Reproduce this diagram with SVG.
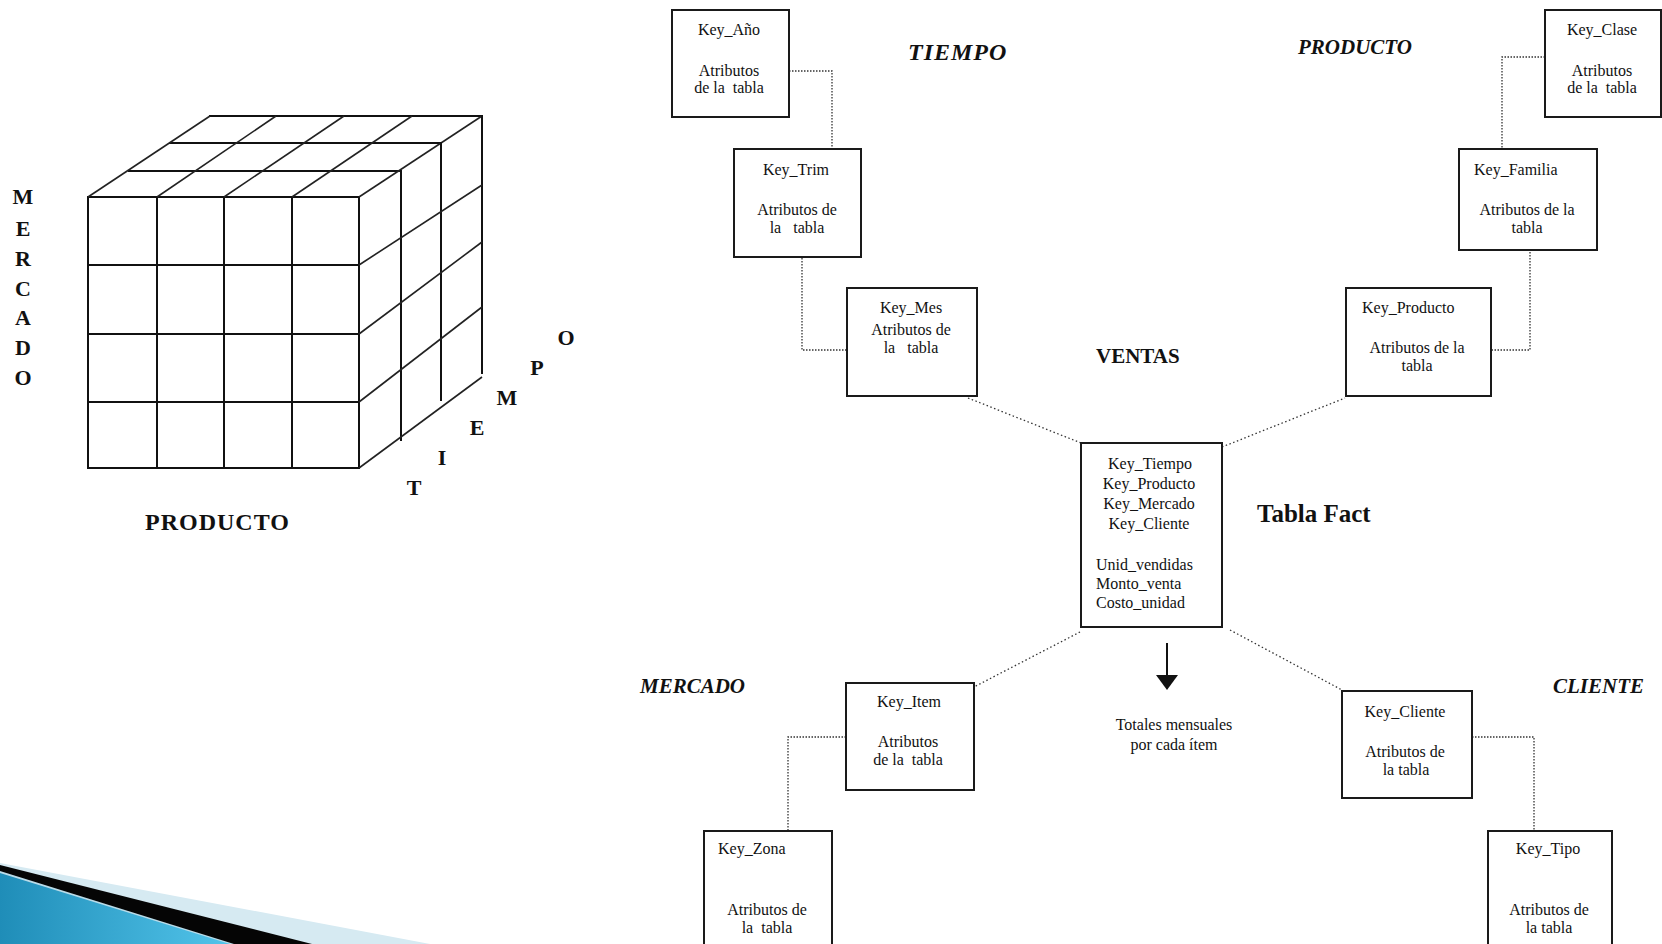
<svg xmlns="http://www.w3.org/2000/svg" width="1662" height="944" viewBox="0 0 1662 944" xml:space="preserve">
  <defs>
    <style>
      .bg { fill: #ffffff; }
      .cube { stroke: #111; stroke-width: 2; fill: none; stroke-linecap: square; }
      .cube-d { stroke: #222; stroke-width: 1.6; fill: none; }
      .axis { font-family: "Liberation Serif", "Times New Roman", serif; font-weight: bold; fill: #111; }
      .box { fill: #fff; stroke: #1a1a1a; stroke-width: 2; }
      .t { font-family: "Liberation Serif", "Times New Roman", serif; font-size: 16px; fill: #111; white-space: pre; }
      .c { text-anchor: middle; }
      .title { font-family: "Liberation Serif", "Times New Roman", serif; font-weight: bold; fill: #111; }
      .dim { font-style: italic; }
      .link { stroke: #333; stroke-width: 1.3; fill: none; stroke-dasharray: 1.5 1.5; }
      .link-d { stroke: #333; stroke-width: 1.3; fill: none; stroke-dasharray: 1.5 2.5; }
    </style>
    <linearGradient id="wedgeBlue" x1="0" y1="0" x2="1" y2="0">
      <stop offset="0" stop-color="#1f8db8"/>
      <stop offset="1" stop-color="#52c4ea"/>
    </linearGradient>
  </defs>

  <rect class="bg" x="0" y="0" width="1662" height="944"/>

  <!-- corner decoration -->
  <g id="corner-wedge">
    <polygon points="0,863 430,944 0,944" fill="#d6eaf2"/>
    <polygon points="0,865 312,944 0,944" fill="#050505"/>
    <polygon points="0,871 234,944 0,944" fill="#b9dbe8"/>
    <polygon points="0,873 230,944 0,944" fill="url(#wedgeBlue)"/>
  </g>

  <!-- data cube -->
  <g id="cube">
    <!-- front face -->
    <rect class="cube" x="88" y="197" width="271" height="271"/>
    <line class="cube" x1="157" y1="197" x2="157" y2="468"/>
    <line class="cube" x1="224" y1="197" x2="224" y2="468"/>
    <line class="cube" x1="292" y1="197" x2="292" y2="468"/>
    <line class="cube" x1="88" y1="265" x2="359" y2="265"/>
    <line class="cube" x1="88" y1="334" x2="359" y2="334"/>
    <line class="cube" x1="88" y1="402" x2="359" y2="402"/>
    <!-- top face -->
    <line class="cube" x1="129" y1="171" x2="401" y2="171"/>
    <line class="cube" x1="170" y1="143" x2="441" y2="143"/>
    <line class="cube" x1="210" y1="116" x2="482" y2="116"/>
    <line class="cube-d" x1="88" y1="197" x2="210" y2="116"/>
    <line class="cube-d" x1="157" y1="197" x2="276" y2="116"/>
    <line class="cube-d" x1="224" y1="197" x2="344" y2="116"/>
    <line class="cube-d" x1="292" y1="197" x2="412" y2="116"/>
    <line class="cube-d" x1="359" y1="197" x2="482" y2="116"/>
    <!-- side face -->
    <line class="cube" x1="401" y1="171" x2="401" y2="440"/>
    <line class="cube" x1="441" y1="143" x2="441" y2="400"/>
    <line class="cube" x1="482" y1="116" x2="482" y2="373"/>
    <line class="cube-d" x1="359" y1="265" x2="482" y2="185"/>
    <line class="cube-d" x1="359" y1="334" x2="482" y2="242"/>
    <line class="cube-d" x1="359" y1="402" x2="482" y2="307"/>
    <line class="cube-d" x1="359" y1="468" x2="482" y2="377"/>
  </g>

  <!-- cube axis labels -->
  <g id="axis-mercado" class="axis" font-size="22" text-anchor="middle">
    <text x="23" y="204">M</text>
    <text x="23" y="236">E</text>
    <text x="23" y="266">R</text>
    <text x="23" y="296">C</text>
    <text x="23" y="325">A</text>
    <text x="23" y="355">D</text>
    <text x="23" y="385">O</text>
  </g>
  <g id="axis-producto">
    <text class="axis" x="145" y="530" font-size="24" letter-spacing="1">PRODUCTO</text>
  </g>
  <g id="axis-tiempo" class="axis" font-size="22" text-anchor="middle">
    <text x="414" y="495">T</text>
    <text x="442" y="465">I</text>
    <text x="477" y="435">E</text>
    <text x="507" y="405">M</text>
    <text x="537" y="375">P</text>
    <text x="566" y="345">O</text>
  </g>

  <!-- connectors -->
  <g id="connectors">
    <polyline class="link" points="789,71 832,71 832,149"/>
    <polyline class="link" points="802,258 802,350 847,350"/>
    <line class="link-d" x1="968" y1="398" x2="1081" y2="443"/>
    <polyline class="link" points="1545,57 1502,57 1502,149"/>
    <polyline class="link" points="1530,252 1530,350 1491,350"/>
    <line class="link-d" x1="1222" y1="447" x2="1345" y2="398"/>
    <line class="link-d" x1="1080" y1="632" x2="972" y2="688"/>
    <line class="link-d" x1="1230" y1="630" x2="1342" y2="690"/>
    <polyline class="link" points="846,737 788,737 788,831"/>
    <polyline class="link" points="1472,737 1534,737 1534,831"/>
    <!-- aggregation arrow -->
    <line x1="1167" y1="643" x2="1167" y2="676" stroke="#111" stroke-width="2"/>
    <polygon points="1156,675 1178,675 1167,690" fill="#111"/>
  </g>

  <!-- TIEMPO dimension -->
  <g id="n-anio">
    <rect class="box" x="672" y="10" width="117" height="107"/>
    <text class="t c" x="729" y="35">Key_Año</text>
    <text class="t c" x="729" y="76">Atributos</text>
    <text class="t c" x="729" y="93">de la  tabla</text>
  </g>
  <g id="n-trim">
    <rect class="box" x="734" y="149" width="127" height="108"/>
    <text class="t c" x="796" y="175">Key_Trim</text>
    <text class="t c" x="797" y="215">Atributos de</text>
    <text class="t c" x="797" y="233">la   tabla</text>
  </g>
  <g id="n-mes">
    <rect class="box" x="847" y="288" width="130" height="108"/>
    <text class="t c" x="911" y="313">Key_Mes</text>
    <text class="t c" x="911" y="335">Atributos de</text>
    <text class="t c" x="911" y="353">la   tabla</text>
  </g>

  <!-- PRODUCTO dimension -->
  <g id="n-clase">
    <rect class="box" x="1545" y="10" width="116" height="107"/>
    <text class="t c" x="1602" y="35">Key_Clase</text>
    <text class="t c" x="1602" y="76">Atributos</text>
    <text class="t c" x="1602" y="93">de la  tabla</text>
  </g>
  <g id="n-familia">
    <rect class="box" x="1459" y="149" width="138" height="101"/>
    <text class="t" x="1474" y="175">Key_Familia</text>
    <text class="t c" x="1527" y="215">Atributos de la</text>
    <text class="t c" x="1527" y="233">tabla</text>
  </g>
  <g id="n-producto">
    <rect class="box" x="1346" y="288" width="145" height="108"/>
    <text class="t" x="1362" y="313">Key_Producto</text>
    <text class="t c" x="1417" y="353">Atributos de la</text>
    <text class="t c" x="1417" y="371">tabla</text>
  </g>

  <!-- fact table -->
  <g id="n-fact">
    <rect class="box" x="1081" y="443" width="141" height="184"/>
    <text class="t c" x="1150" y="469">Key_Tiempo</text>
    <text class="t c" x="1149" y="489">Key_Producto</text>
    <text class="t c" x="1149" y="509">Key_Mercado</text>
    <text class="t c" x="1149" y="529">Key_Cliente</text>
    <text class="t" x="1096" y="570">Unid_vendidas</text>
    <text class="t" x="1096" y="589">Monto_venta</text>
    <text class="t" x="1096" y="608">Costo_unidad</text>
  </g>

  <!-- MERCADO dimension -->
  <g id="n-item">
    <rect class="box" x="846" y="683" width="128" height="107"/>
    <text class="t c" x="909" y="707">Key_Item</text>
    <text class="t c" x="908" y="747">Atributos</text>
    <text class="t c" x="908" y="765">de la  tabla</text>
  </g>
  <g id="n-zona">
    <rect class="box" x="704" y="831" width="128" height="130"/>
    <text class="t" x="718" y="854">Key_Zona</text>
    <text class="t c" x="767" y="915">Atributos de</text>
    <text class="t c" x="767" y="933">la  tabla</text>
  </g>

  <!-- CLIENTE dimension -->
  <g id="n-cliente">
    <rect class="box" x="1342" y="691" width="130" height="107"/>
    <text class="t c" x="1405" y="717">Key_Cliente</text>
    <text class="t c" x="1405" y="757">Atributos de</text>
    <text class="t c" x="1406" y="775">la tabla</text>
  </g>
  <g id="n-tipo">
    <rect class="box" x="1488" y="831" width="124" height="130"/>
    <text class="t c" x="1548" y="854">Key_Tipo</text>
    <text class="t c" x="1549" y="915">Atributos de</text>
    <text class="t c" x="1549" y="933">la tabla</text>
  </g>

  <!-- titles -->
  <g id="titles">
    <text class="title dim" x="908" y="60" font-size="24" letter-spacing="1">TIEMPO</text>
    <text class="title dim" x="1298" y="54" font-size="21">PRODUCTO</text>
    <text class="title" x="1096" y="363" font-size="21">VENTAS</text>
    <text class="title" x="1257" y="522" font-size="25">Tabla Fact</text>
    <text class="title dim" x="640" y="693" font-size="21">MERCADO</text>
    <text class="title dim" x="1553" y="693" font-size="21">CLIENTE</text>
    <text class="t c" x="1174" y="730">Totales mensuales</text>
    <text class="t c" x="1174" y="750">por cada ítem</text>
  </g>
</svg>
